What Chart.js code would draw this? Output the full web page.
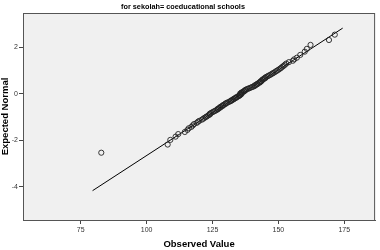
<!DOCTYPE html>
<html>
<head>
<meta charset="utf-8">
<script src="https://cdn.jsdelivr.net/npm/chart.js@4"></script>
<style>
  html, body { margin: 0; padding: 0; background: #fff; }
  #wrap { width: 380px; height: 250px; }
</style>
</head>
<body>
<div id="wrap"><canvas id="qqChart" width="380" height="250"></canvas></div>
<script>
const observedValues = [
  82.8, 108, 109, 111, 112, 114.5, 115.5, 116, 117, 117.5,
  118, 119, 119.5, 120, 121, 121.5, 122, 122.5, 123, 123.5,
  124, 124, 124.5, 125, 125.5, 126, 126.5, 127, 127, 127.5,
  128, 128, 128.5, 129, 129, 129.5, 130, 130, 130.5, 131,
  131.5, 132, 132, 132.5, 133, 133, 133.5, 134, 134, 134.5,
  135, 135, 135.5, 135.5, 136, 135.5, 136, 136, 136.5, 137,
  137, 137.5, 137.5, 138, 138.5, 139, 139.5, 140, 140.5, 141,
  141, 141.5, 142, 142, 142.5, 143, 143, 143.5, 143.5, 144,
  144, 144.5, 145, 145, 145.5, 146, 146.5, 147, 147.5, 148,
  148.5, 149, 149.5, 150, 150.5, 151, 151.5, 152, 152.5, 153,
  154, 155.5, 156, 157, 158.3, 160, 160.8, 162.2, 169.2, 171.4
];
const expectedNormal = [
  -2.53, -2.18, -1.98, -1.84, -1.73, -1.64, -1.55, -1.48, -1.42, -1.36,
  -1.30, -1.25, -1.20, -1.16, -1.11, -1.07, -1.03, -0.995, -0.96, -0.92,
  -0.89, -0.855, -0.82, -0.79, -0.76, -0.73, -0.70, -0.67, -0.645, -0.615,
  -0.59, -0.56, -0.535, -0.51, -0.485, -0.46, -0.43, -0.41, -0.385, -0.36,
  -0.335, -0.31, -0.29, -0.265, -0.24, -0.22, -0.195, -0.17, -0.15, -0.125,
  -0.10, -0.08, -0.057, -0.034, -0.011, 0.011, 0.034, 0.057, 0.08, 0.10,
  0.125, 0.15, 0.17, 0.195, 0.22, 0.24, 0.265, 0.29, 0.31, 0.335,
  0.36, 0.385, 0.41, 0.43, 0.46, 0.485, 0.51, 0.535, 0.56, 0.59,
  0.615, 0.645, 0.67, 0.70, 0.73, 0.76, 0.79, 0.82, 0.855, 0.89,
  0.92, 0.96, 0.995, 1.03, 1.07, 1.11, 1.16, 1.20, 1.25, 1.30,
  1.36, 1.42, 1.48, 1.55, 1.67, 1.81, 1.93, 2.10, 2.31, 2.54
];

// Reference line end points
const lineX = [79.5, 174.4];
const lineY = [-4.16, 2.82];

// Tick labels
const xTicks = [75, 100, 125, 150, 175];
const yTicks = [-4, -2, 0, 2];

const chartTitle = 'for sekolah= coeducational schools';

const points = observedValues.map((v, i) => ({ x: v, y: expectedNormal[i] }));
const refLine = lineX.map((v, i) => ({ x: v, y: lineY[i] }));

// background + frame of the plot area, and the small title on top
const framePlugin = {
  id: 'frame',
  beforeDatasetsDraw(chart) {
    const { ctx, chartArea: a } = chart;
    ctx.save();
    ctx.fillStyle = '#f0f0f0';
    ctx.fillRect(a.left, a.top, a.right - a.left, a.bottom - a.top);
    ctx.restore();
  },
  afterDraw(chart) {
    const { ctx, chartArea: a } = chart;
    ctx.save();
    ctx.strokeStyle = '#555';
    ctx.lineWidth = 1;
    ctx.strokeRect(a.left + 0.5, a.top + 0.5, a.right - a.left - 1, a.bottom - a.top);
    ctx.fillStyle = '#000';
    ctx.font = 'bold 7.3px "Liberation Sans", Arial, sans-serif';
    ctx.textAlign = 'center';
    ctx.textBaseline = 'middle';
    ctx.fillText(chartTitle, 183, 7);
    ctx.restore();
  }
};

const ctx = document.getElementById('qqChart').getContext('2d');
new Chart(ctx, {
  type: 'scatter',
  data: {
    datasets: [
      {
        data: points,
        showLine: false,
        pointStyle: 'circle',
        pointRadius: 2.6,
        pointBorderWidth: 0.9,
        pointBorderColor: '#222',
        pointBackgroundColor: 'rgba(0,0,0,0)',
        order: 1,
      },
      {
        data: refLine,
        showLine: true,
        borderColor: '#000',
        borderWidth: 1,
        pointRadius: 0,
        order: 2,
      },
    ],
  },
  options: {
    responsive: false,
    animation: false,
    events: [],
    layout: { padding: { top: 13, right: 4, left: 0, bottom: 0 } },
    plugins: {
      legend: { display: false },
      tooltip: { enabled: false },
    },
    scales: {
      x: {
        type: 'linear',
        min: 53.1,
        max: 186.7,
        afterBuildTicks: (scale) => { scale.ticks = xTicks.map(v => ({ value: v })); },
        afterFit: (scale) => { scale.height = 30; },
        grid: { drawOnChartArea: false, drawTicks: true, tickLength: 4, color: '#444' },
        border: { display: true, color: '#555', width: 1 },
        ticks: {
          color: '#333',
          padding: 2,
          font: { family: '"Liberation Sans", Arial, sans-serif', size: 7 },
        },
        title: {
          display: true,
          text: 'Observed Value',
          color: '#000',
          padding: { top: 6, bottom: 0 },
          font: { family: '"Liberation Sans", Arial, sans-serif', size: 9.5, weight: 'bold' },
        },
      },
      y: {
        type: 'linear',
        min: -5.42,
        max: 3.47,
        afterBuildTicks: (scale) => { scale.ticks = yTicks.map(v => ({ value: v })); },
        afterFit: (scale) => { scale.width = 23; },
        grid: { drawOnChartArea: false, drawTicks: true, tickLength: 4, color: '#444' },
        border: { display: true, color: '#555', width: 1 },
        ticks: {
          color: '#333',
          padding: 1,
          font: { family: '"Liberation Sans", Arial, sans-serif', size: 7 },
        },
        title: {
          display: true,
          text: 'Expected Normal',
          color: '#000',
          padding: { top: 0, bottom: 0 },
          font: { family: '"Liberation Sans", Arial, sans-serif', size: 9.5, weight: 'bold' },
        },
      },
    },
  },
  plugins: [framePlugin],
});
</script>
</body>
</html>
